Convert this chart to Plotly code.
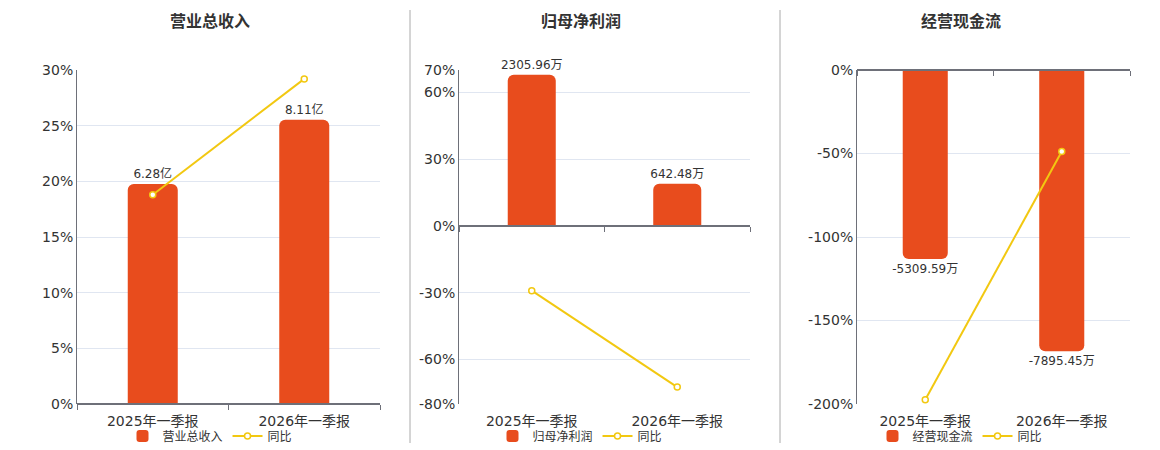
import plotly.graph_objects as go

# --- data ---
categories = ["2025年一季报", "2026年一季报"]

revenue = [6.28, 8.11]            # 亿
revenue_yoy = [18.8, 29.2]        # %
profit = [2305.96, 642.48]        # 万
profit_yoy = [-29.1, -72.4]
cashflow = [-5309.59, -7895.45]   # 万
cashflow_yoy = [-197.4, -48.8]

titles = ["营业总收入", "归母净利润", "经营现金流"]
units = ["亿", "万", "万"]

# --- style ---
BAR_COLOR = "#E84C1D"
LINE_COLOR = "#F2C811"
TEXT_COLOR = "#333333"
AXIS_COLOR = "#6E7079"
GRID_COLOR = "#E0E6F1"
FONT = "DejaVu Sans, Noto Sans CJK SC, sans-serif"

W, H = 1160, 450
OFF = 8  # page body margin

# plot boxes in screen pixels (left, right), shared top/bottom
boxes = [(77, 380), (459, 750), (857, 1130)]
top_px, bottom_px = 70, 404
title_x = [210, 581, 961]
legend_x = [210, 580, 960]


def fx(p):
    return (p - OFF) / W


def fy(p):
    return 1 - (p - OFF) / H


# percent axis: range and ticks; bar axis: range scaled to match
pct_ranges = [(0, 30), (-80, 70), (-200, 0)]
pct_ticks = [
    [0, 5, 10, 15, 20, 25, 30],
    [-80, -60, -30, 0, 30, 60, 70],
    [-200, -150, -100, -50, 0],
]
bar_scale = [0.3177, 33.96, 46.9]   # bar units per 1%

panels = [
    (revenue, revenue_yoy),
    (profit, profit_yoy),
    (cashflow, cashflow_yoy),
]

ydom = [fy(bottom_px), fy(top_px)]

fig = go.Figure()
layout = dict(
    width=W, height=H,
    margin=dict(l=0, r=0, t=0, b=0, autoexpand=False),
    paper_bgcolor="white",
    plot_bgcolor="white",
    font=dict(family=FONT, size=14, color=TEXT_COLOR),
    annotations=[],
    shapes=[],
)

for i, ((bars, yoy), title, unit) in enumerate(zip(panels, titles, units)):
    n = i + 1
    sx = "" if n == 1 else str(n)
    xa, ya = f"x{sx}", f"y{sx}"
    ya_pct = f"y{n + 3}"
    xa_zero = f"x{n + 3}"
    lo, hi = pct_ranges[i]
    xdom = [fx(boxes[i][0]), fx(boxes[i][1])]
    leg = "legend" if n == 1 else f"legend{n}"

    fig.add_trace(go.Bar(
        x=categories, y=bars, name=title,
        xaxis=xa, yaxis=ya, legend=leg,
        width=0.33,
        marker=dict(color=BAR_COLOR, cornerradius=6, line=dict(width=0)),
        text=[f"{v:.2f}{unit}" for v in bars],
        textposition="outside",
        constraintext="none",
        textfont=dict(size=12, color=TEXT_COLOR),
        cliponaxis=False,
    ))
    fig.add_trace(go.Scatter(
        x=categories, y=yoy, name="同比",
        xaxis=xa, yaxis=ya_pct, legend=leg,
        mode="lines+markers",
        line=dict(color=LINE_COLOR, width=2),
        marker=dict(symbol="circle", size=6, color="white",
                    line=dict(color=LINE_COLOR, width=1.5)),
        cliponaxis=False,
    ))
    # empty trace so the zero-level category axis gets drawn
    fig.add_trace(go.Scatter(
        x=[], y=[], xaxis=xa_zero, yaxis=ya_pct,
        showlegend=False, hoverinfo="skip",
    ))

    layout[f"xaxis{sx}"] = dict(
        domain=xdom, anchor=ya, type="category",
        range=[-0.5, 1.5],
        showline=False, showgrid=False, zeroline=False, ticks="",
        ticklabelstandoff=7,
        tickfont=dict(size=14, color=TEXT_COLOR),
    )
    layout[f"yaxis{sx}"] = dict(
        domain=ydom, anchor=xa, visible=False,
        range=[lo * bar_scale[i], hi * bar_scale[i]],
        showgrid=False, zeroline=False,
    )
    layout[f"yaxis{n + 3}"] = dict(
        overlaying=ya, anchor=xa, side="left",
        range=[lo, hi], tickmode="array", tickvals=pct_ticks[i],
        ticktext=[f"{v}%" for v in pct_ticks[i]],
        showgrid=True, gridcolor=GRID_COLOR, gridwidth=1,
        showline=True, linecolor=AXIS_COLOR, linewidth=1,
        zeroline=False, ticks="",
        tickfont=dict(size=14, color=TEXT_COLOR),
    )
    # category axis line drawn at the zero level
    zero_pos = ydom[0] + (0 - lo) / (hi - lo) * (ydom[1] - ydom[0])
    layout[f"xaxis{n + 3}"] = dict(
        overlaying=xa, anchor="free", position=zero_pos, side="bottom",
        range=[-0.5, 1.5], tickmode="array", tickvals=[-0.5, 0.5, 1.5],
        showticklabels=False, ticks="outside", ticklen=5,
        tickcolor=AXIS_COLOR, showline=True, linecolor=AXIS_COLOR,
        linewidth=2, showgrid=False, zeroline=False,
    )

    layout[leg] = dict(
        orientation="h", x=fx(legend_x[i]), xanchor="center",
        y=fy(436), yanchor="middle",
        font=dict(size=12, color=TEXT_COLOR),
        bgcolor="rgba(0,0,0,0)", itemwidth=30, tracegroupgap=0,
    )

    layout["annotations"].append(dict(
        text=f"<b>{title}</b>", x=fx(title_x[i]), y=fy(22),
        xref="paper", yref="paper", xanchor="center", yanchor="middle",
        showarrow=False, font=dict(size=16, color=TEXT_COLOR),
    ))

# vertical separators between panels
for px in (410, 780):
    layout["shapes"].append(dict(
        type="line", xref="paper", yref="paper",
        x0=fx(px), x1=fx(px), y0=fy(443), y1=fy(10),
        line=dict(color="#AAAAAA", width=1),
    ))

fig.update_layout(**layout)
fig.write_html("out.html")
